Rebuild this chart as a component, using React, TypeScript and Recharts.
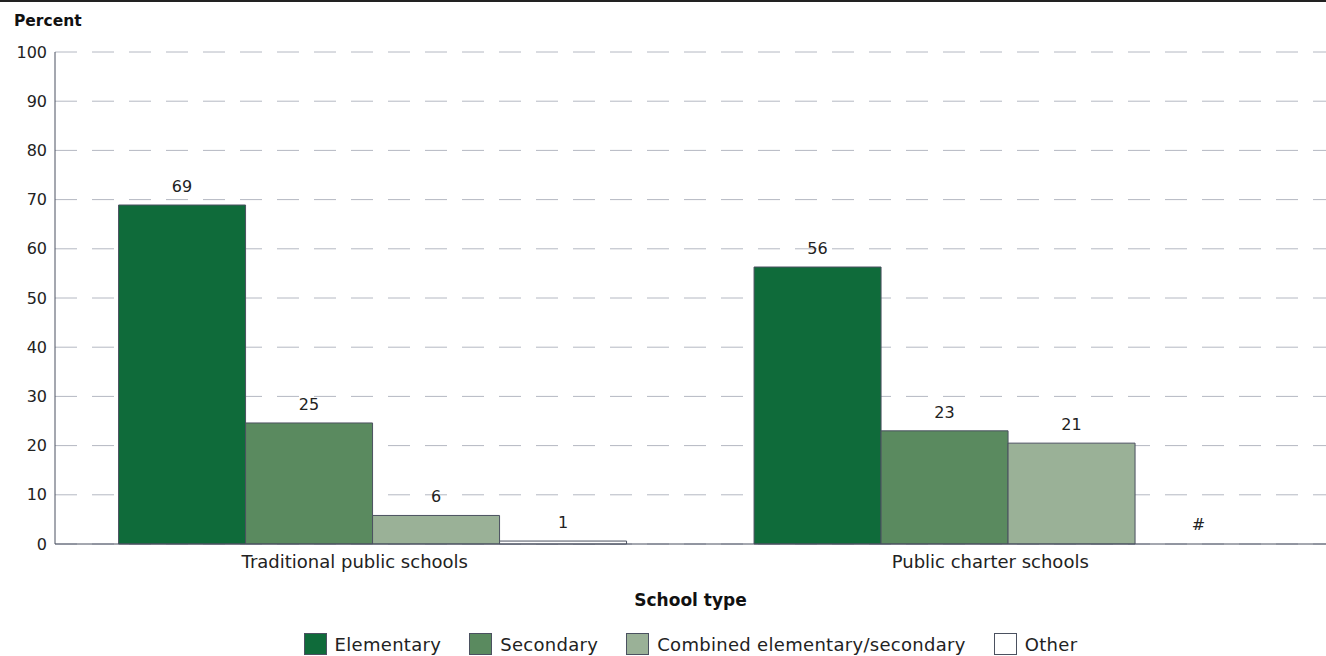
import { Bar, BarChart, CartesianGrid, Label, LabelList, Legend, Rectangle, XAxis, YAxis } from 'recharts'

const FONT = '"DejaVu Sans", "Noto Sans", sans-serif'
const AXIS = '#4b5160'

const schoolTypes = ['Traditional public schools', 'Public charter schools']
const elementary = [68.9, 56.3]
const secondary = [24.6, 23.0]
const combined = [5.8, 20.5]
const other = [0.6, 0]
const elementaryLabels = ['69', '56']
const secondaryLabels = ['25', '23']
const combinedLabels = ['6', '21']
const otherLabels = ['1', '#']
const yTicks = [0, 10, 20, 30, 40, 50, 60, 70, 80, 90, 100]

const series = [
  { key: 'elementary', label: 'elementaryLabel', name: 'Elementary', color: '#0f6b3a' },
  { key: 'secondary', label: 'secondaryLabel', name: 'Secondary', color: '#5a8a5f' },
  { key: 'combined', label: 'combinedLabel', name: 'Combined elementary/secondary', color: '#9ab197' },
  { key: 'other', label: 'otherLabel', name: 'Other', color: '#ffffff' },
]

const rows = schoolTypes.map((name, i) => ({
  name,
  elementary: elementary[i],
  secondary: secondary[i],
  combined: combined[i],
  other: other[i],
  elementaryLabel: elementaryLabels[i],
  secondaryLabel: secondaryLabels[i],
  combinedLabel: combinedLabels[i],
  otherLabel: otherLabels[i],
}))

// zero values still get a 1px slot so the "#" label has somewhere to sit,
// but nothing is drawn for them
function makeShape(key: string) {
  return (props: any) => {
    if (!props.payload || props.payload[key] === 0) return <g />
    return <Rectangle {...props} />
  }
}

function LegendBox() {
  return (
    <div
      style={{
        height: 24,
        paddingLeft: 55,
        display: 'flex',
        justifyContent: 'center',
        alignItems: 'center',
        gap: 28,
        fontFamily: FONT,
        fontSize: 18,
        letterSpacing: 0.3,
        color: '#222',
      }}
    >
      {series.map((s) => (
        <div key={s.key} style={{ display: 'flex', alignItems: 'center', gap: 8 }}>
          <span
            style={{
              display: 'inline-block',
              boxSizing: 'border-box',
              width: 23,
              height: 22,
              background: s.color,
              border: `1.5px solid ${AXIS}`,
            }}
          />
          <span>{s.name}</span>
        </div>
      ))}
    </div>
  )
}

export default function App() {
  return (
    <div style={{ position: 'absolute', left: 0, top: 0, width: 1326, height: 656, background: '#fff' }}>
      <div style={{ position: 'absolute', left: 0, top: 0, width: 1326, height: 2, background: '#222' }} />
      <div
        style={{
          position: 'absolute',
          left: 14,
          top: 12,
          fontFamily: FONT,
          fontWeight: 'bold',
          fontSize: 15.5,
          color: '#111',
        }}
      >
        Percent
      </div>
      <BarChart
        width={1326}
        height={656}
        data={rows}
        margin={{ top: 52, right: 0, left: 0, bottom: 0 }}
        barGap={0}
        barCategoryGap="10%"
      >
        <CartesianGrid vertical={false} stroke="#b4b8c2" strokeDasharray="22 15" />
        <XAxis
          dataKey="name"
          height={88}
          tickLine={false}
          tickMargin={5}
          axisLine={{ stroke: AXIS }}
          tick={{ fontFamily: FONT, fontSize: 18, fill: '#222', dx: -18 }}
        >
          <Label
            value="School type"
            position="insideBottom"
            offset={26}
            style={{ fontFamily: FONT, fontSize: 17, fontWeight: 'bold', fill: '#111' }}
          />
        </XAxis>
        <YAxis
          width={55}
          domain={[0, 100]}
          ticks={yTicks}
          tickLine={false}
          axisLine={{ stroke: AXIS }}
          tick={{ fontFamily: FONT, fontSize: 16, fill: '#222' }}
        />
        <Legend verticalAlign="bottom" content={() => <LegendBox />} />
        {series.map((s) => (
          <Bar
            key={s.key}
            dataKey={s.key}
            name={s.name}
            fill={s.color}
            stroke={AXIS}
            strokeWidth={1}
            minPointSize={1}
            shape={makeShape(s.key)}
            isAnimationActive={false}
          >
            <LabelList
              dataKey={s.label}
              position="top"
              offset={13}
              style={{ fontFamily: FONT, fontSize: 16, fill: '#222' }}
            />
          </Bar>
        ))}
      </BarChart>
    </div>
  )
}
